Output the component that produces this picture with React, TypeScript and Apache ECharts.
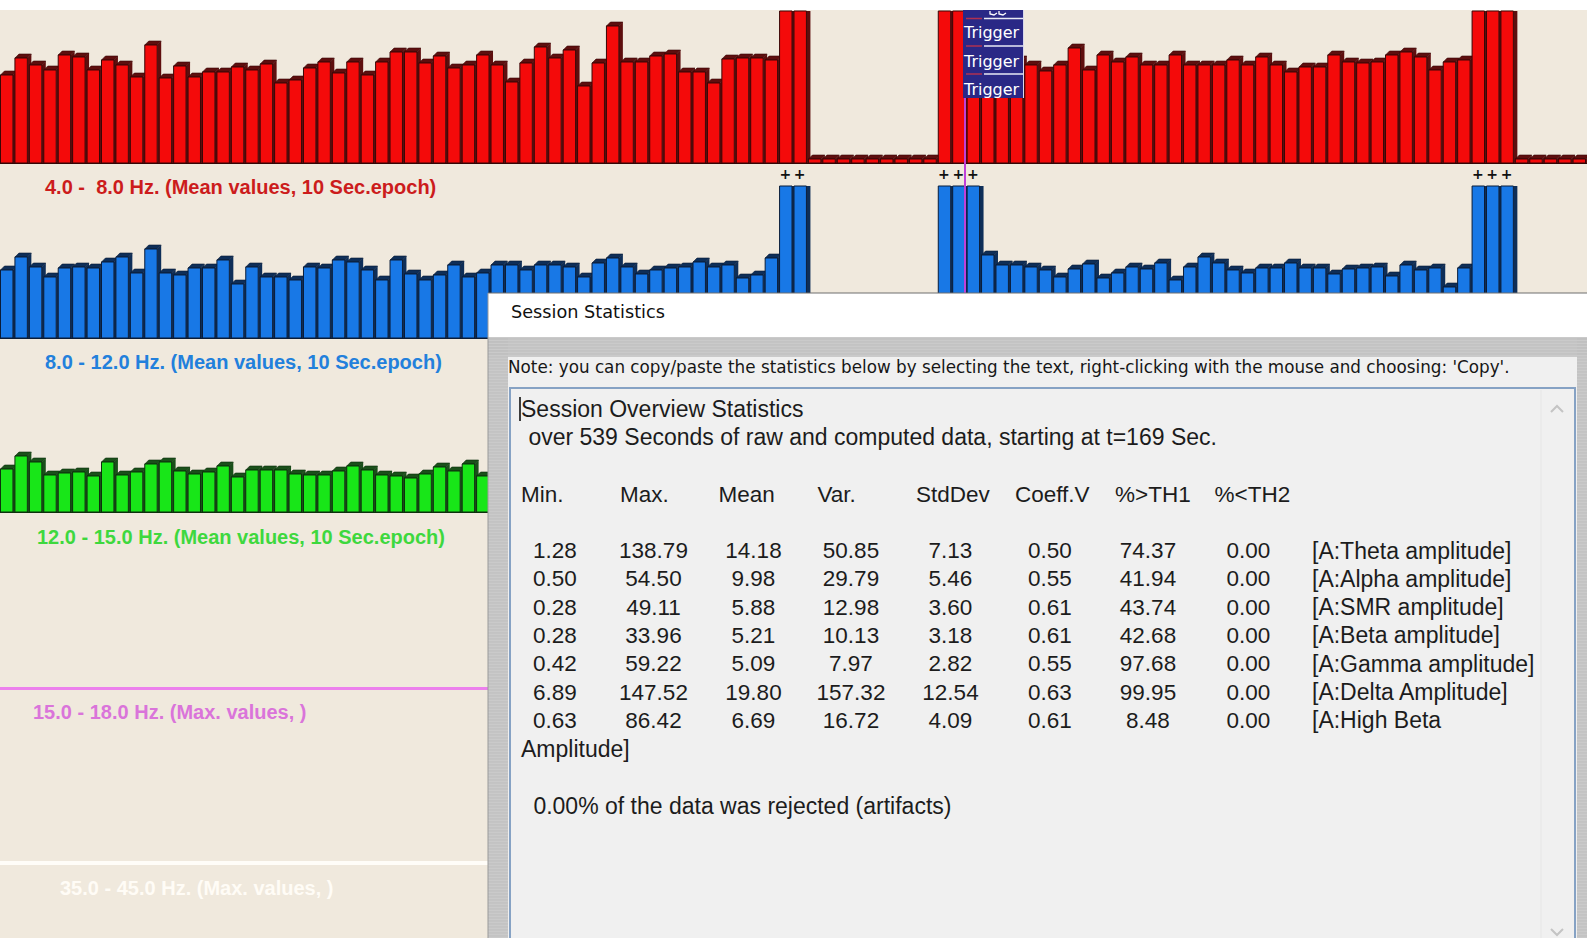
import React, { useEffect, useRef } from "react";
import * as echarts from "echarts";

// ---------- DATA ----------
const epochs: string[] = Array.from({ length: 110 }, (_, i) => `E${i + 1}`);

// 4-8 Hz (theta) mean amplitude per 10 s epoch (160 = off-scale / artifact)
const thetaValues = [
  88, 105, 98, 93, 108, 106, 93, 103, 98, 86,
  118, 85, 97, 86, 91, 91, 96, 93, 99, 80,
  83, 95, 101, 90, 101, 88, 101, 111, 111, 100,
  107, 95, 98, 108, 98, 81, 100, 116, 105, 113,
  77, 100, 137, 101, 101, 107, 109, 91, 91, 80,
  104, 105, 105, 103, 160, 160, 4, 4, 4, 4,
  4, 4, 4, 4, 4, 160, 160, 160, 100, 106,
  103, 98, 92, 98, 115, 93, 108, 101, 106, 98,
  98, 108, 98, 98, 98, 103, 98, 106, 98, 91,
  96, 96, 108, 101, 100, 101, 108, 111, 106, 93,
  101, 103, 160, 160, 160, 4, 4, 4, 4, 4,
];

// 8-12 Hz (alpha)
const alphaValues = [
  68, 81, 71, 61, 70, 71, 70, 76, 81, 65,
  89, 65, 63, 70, 70, 78, 54, 71, 61, 61,
  58, 71, 70, 78, 76, 68, 58, 78, 64, 58,
  63, 73, 61, 65, 73, 73, 68, 73, 73, 71,
  61, 75, 80, 71, 64, 68, 70, 71, 76, 71,
  73, 60, 63, 80, 160, 160, 4, 4, 4, 4,
  4, 4, 4, 4, 4, 160, 160, 160, 83, 73,
  73, 71, 68, 61, 69, 74, 60, 65, 71, 69,
  75, 58, 71, 81, 75, 68, 65, 70, 70, 75,
  70, 70, 64, 69, 70, 71, 62, 73, 68, 70,
  51, 70, 160, 160, 160, 4, 4, 4, 4, 4,
];

// 12-15 Hz (SMR) - visible part only
const smrValues = [
  43, 56, 50, 37, 39, 40, 36, 50, 37, 40,
  48, 50, 41, 38, 40, 46, 35, 42, 42, 42,
  38, 37, 37, 41, 46, 42, 37, 36, 34, 38,
  45, 41, 48, 36, 40,
];

const bandLabels = [
  "4.0 -  8.0 Hz. (Mean values, 10 Sec.epoch)",
  "8.0 - 12.0 Hz. (Mean values, 10 Sec.epoch)",
  "12.0 - 15.0 Hz. (Mean values, 10 Sec.epoch)",
  "15.0 - 18.0 Hz. (Max. values, )",
  "35.0 - 45.0 Hz. (Max. values, )",
];

const triggerLabels = ["Trigger", "Trigger", "Trigger"];

const statHeaders = ["Min.", "Max.", "Mean", "Var.", "StdDev", "Coeff.V", "%>TH1", "%<TH2"];
const statMin = ["1.28", "0.50", "0.28", "0.28", "0.42", "6.89", "0.63"];
const statMax = ["138.79", "54.50", "49.11", "33.96", "59.22", "147.52", "86.42"];
const statMean = ["14.18", "9.98", "5.88", "5.21", "5.09", "19.80", "6.69"];
const statVar = ["50.85", "29.79", "12.98", "10.13", "7.97", "157.32", "16.72"];
const statStd = ["7.13", "5.46", "3.60", "3.18", "2.82", "12.54", "4.09"];
const statCoeff = ["0.50", "0.55", "0.61", "0.61", "0.55", "0.63", "0.61"];
const statTh1 = ["74.37", "41.94", "43.74", "42.68", "97.68", "99.95", "8.48"];
const statTh2 = ["0.00", "0.00", "0.00", "0.00", "0.00", "0.00", "0.00"];
const channelLabels = [
  "[A:Theta amplitude]",
  "[A:Alpha amplitude]",
  "[A:SMR amplitude]",
  "[A:Beta amplitude]",
  "[A:Gamma amplitude]",
  "[A:Delta Amplitude]",
  "[A:High Beta",
];

// ---------- STYLE / LAYOUT ----------
const W = 1587;
const H = 938;
const BG = "#F0E9DD";
const gridTops = [11, 186, 360, 536, 711];
const GRID_H = 152;
const bandColors = [
  { front: "#F40A0A", dark: "#5E0E0E", edge: "#3A0606", label: "#CC1C1C", axis: "#2E0606", axisW: 2 },
  { front: "#1878E6", dark: "#0E2E58", edge: "#0A1C38", label: "#2280DC", axis: "#0A1C38", axisW: 2 },
  { front: "#18E618", dark: "#1A501A", edge: "#0C300C", label: "#3ED83E", axis: "#0C300C", axisW: 2 },
  { front: "#EE80EE", dark: "#EE80EE", edge: "#EE80EE", label: "#DA74DA", axis: "#EC80EC", axisW: 3 },
  { front: "#FFFFFF", dark: "#FFFFFF", edge: "#FFFFFF", label: "#FFFCF6", axis: "#FFFDF8", axisW: 4 },
];
const labelLefts = [45, 45, 37, 33, 60];
const labelCenters = [187, 362, 537, 712, 888];

function make3DRender(front: string, dark: string, edge: string, plus: boolean) {
  return (params: any, api: any) => {
    const i = api.value(0);
    const v = api.value(1);
    const base = api.coord([i, 0]);
    const top = api.coord([i, v]);
    const bw = api.size([1, 0])[0];
    const cs = params.coordSys;
    const d = 4;
    const xl = base[0] - bw / 2 + 0.5;
    const xr = base[0] + bw / 2 - 1.5;
    const yb = base[1];
    let yt = top[1];
    const clipped = yt <= cs.y;
    if (clipped) yt = cs.y;
    const children: any[] = [];
    children.push({
      type: "polygon",
      shape: {
        points: clipped
          ? [[xr, yt], [xr + d, yt], [xr + d, yb], [xr, yb]]
          : [[xr, yt], [xr + d, yt - d], [xr + d, yb], [xr, yb]],
      },
      style: { fill: dark },
    });
    if (!clipped) {
      children.push({
        type: "polygon",
        shape: { points: [[xl, yt], [xl + d, yt - d], [xr + d, yt - d], [xr, yt]] },
        style: { fill: dark, stroke: edge, lineWidth: 0.6 },
      });
    }
    children.push({
      type: "rect",
      shape: { x: xl, y: yt, width: xr - xl, height: yb - yt },
      style: { fill: front, stroke: edge, lineWidth: 1 },
    });
    if (plus && clipped) {
      children.push({
        type: "text",
        style: {
          text: "+",
          x: base[0] - 1,
          y: yb + 11,
          align: "center",
          verticalAlign: "middle",
          textAlign: "center",
          textVerticalAlign: "middle",
          fill: "#111111",
          font: 'bold 14px "DejaVu Sans"',
        },
      });
    }
    return { type: "group", children };
  };
}

function txt(text: string, x: number, y: number, font: string, fill: string, align = "left", z = 110) {
  return {
    type: "text",
    z,
    style: {
      text,
      x,
      y,
      font,
      fill,
      align,
      textAlign: align,
      verticalAlign: "middle",
      textVerticalAlign: "middle",
    },
  };
}

export default function App() {
  const ref = useRef<HTMLDivElement>(null);

  useEffect(() => {
    if (!ref.current) return;
    const chart = echarts.init(ref.current, undefined, { renderer: "svg" });

    const grids = gridTops.map((t) => ({ left: -1, top: t, width: W + 2, height: GRID_H }));
    const xAxes = gridTops.map((_, gi) => ({
      type: "category",
      gridIndex: gi,
      data: epochs,
      boundaryGap: true,
      axisTick: { show: false },
      axisLabel: { show: false },
      splitLine: { show: false },
      axisLine: { show: true, lineStyle: { color: bandColors[gi].axis, width: bandColors[gi].axisW } },
    }));
    const yAxes = gridTops.map((_, gi) => ({
      type: "value",
      gridIndex: gi,
      min: 0,
      max: GRID_H,
      show: false,
    }));

    const bandData = [thetaValues, alphaValues, smrValues];
    const series: any[] = bandData.map((vals, gi) => ({
      type: "custom",
      name: bandLabels[gi],
      xAxisIndex: gi,
      yAxisIndex: gi,
      clip: false,
      renderItem: make3DRender(bandColors[gi].front, bandColors[gi].dark, bandColors[gi].edge, gi === 0),
      data: vals.map((v, i) => [i, v]),
      z: 2,
    }));

    const titles = bandLabels.map((t, gi) => ({
      text: t,
      left: labelLefts[gi],
      top: labelCenters[gi] - 10,
      padding: 0,
      textStyle: {
        color: bandColors[gi].label,
        fontSize: 20,
        fontWeight: "bold",
        fontFamily: '"Liberation Sans", Arial, sans-serif',
        lineHeight: 20,
      },
    }));

    // ---------- graphic overlay: trigger markers + dialog ----------
    const g: any[] = [];
    // magenta event line
    g.push({ type: "line", z: 70, shape: { x1: 965, y1: 10, x2: 965, y2: 293 }, style: { stroke: "#C040D8", lineWidth: 2 } });
    // trigger boxes
    g.push({ type: "rect", z: 80, shape: { x: 963, y: 10, width: 61, height: 88 }, style: { fill: "#2A2886" } });
    [18.5, 46, 74].forEach((yy) => {
      g.push({ type: "line", z: 81, shape: { x1: 984, y1: yy, x2: 1023, y2: yy }, style: { stroke: "#E8E8F4", lineWidth: 1.5 } });
      g.push({ type: "line", z: 81, shape: { x1: 966, y1: yy, x2: 982, y2: yy }, style: { stroke: "#B03050", lineWidth: 1.5 } });
    });
    g.push({ type: "line", z: 81, shape: { x1: 1023.5, y1: 10, x2: 1023.5, y2: 98 }, style: { stroke: "#D8D8EC", lineWidth: 1 } });
    // glyph fragments of a trigger label scrolled off the top
    g.push({ type: "polyline", z: 82, shape: { points: [[990, 11], [990, 14], [994, 15], [997, 13]] }, style: { stroke: "#FFFFFF", lineWidth: 1.3, fill: "none" } });
    g.push({ type: "polyline", z: 82, shape: { points: [[999, 11], [999, 14], [1003, 15], [1006, 13]] }, style: { stroke: "#FFFFFF", lineWidth: 1.3, fill: "none" } });
    const trigY = [32, 61, 89];
    triggerLabels.forEach((t, k) => g.push(txt(t, 964, trigY[k], '16px "DejaVu Sans"', "#FFFFFF", "left", 82)));
    // white strip on top
    g.push({ type: "rect", z: 90, shape: { x: 0, y: 0, width: W, height: 10 }, style: { fill: "#FFFFFF" } });

    // dialog window
    const DX = 488, DY = 293;
    g.push({ type: "rect", z: 100, shape: { x: DX, y: DY, width: W - DX, height: H - DY }, style: { fill: "#CACACA" } });
    for (let yy = 339; yy < H; yy += 3) {
      g.push({ type: "line", z: 100, shape: { x1: DX, y1: yy, x2: 508, y2: yy }, style: { stroke: "#BDBDBD", lineWidth: 1 } });
      g.push({ type: "line", z: 100, shape: { x1: 1577, y1: yy, x2: W, y2: yy }, style: { stroke: "#BDBDBD", lineWidth: 1 } });
    }
    for (let yy = 339; yy < 357; yy += 3) {
      g.push({ type: "line", z: 100, shape: { x1: DX, y1: yy, x2: W, y2: yy }, style: { stroke: "#BDBDBD", lineWidth: 1 } });
    }
    g.push({ type: "rect", z: 101, shape: { x: DX, y: DY, width: W - DX, height: 44 }, style: { fill: "#FFFFFF" } });
    g.push({ type: "line", z: 102, shape: { x1: DX, y1: DY, x2: W, y2: DY }, style: { stroke: "#6E6E6E", lineWidth: 1 } });
    g.push({ type: "line", z: 102, shape: { x1: DX, y1: DY, x2: DX, y2: H }, style: { stroke: "#9A9A9A", lineWidth: 1 } });
    g.push(txt("Session Statistics", 511, 312, '17.7px "DejaVu Sans"', "#111111"));
    g.push({ type: "rect", z: 101, shape: { x: 508, y: 357, width: 1069, height: H - 357 }, style: { fill: "#F0F0F0" } });
    g.push(
      txt(
        "Note: you can copy/paste the statistics below by selecting the text, right-clicking with the mouse and choosing: 'Copy'.",
        508,
        367,
        '16.8px "DejaVu Sans"',
        "#161616"
      )
    );
    g.push({
      type: "rect",
      z: 102,
      shape: { x: 510, y: 388, width: 1065, height: 570 },
      style: { fill: "#F0F0F0", stroke: "#86A2C4", lineWidth: 2 },
    });
    g.push({ type: "line", z: 103, shape: { x1: 1541, y1: 390, x2: 1541, y2: H }, style: { stroke: "#E6E6E6", lineWidth: 1 } });
    g.push({ type: "polyline", z: 103, shape: { points: [[1551, 412], [1557, 406], [1563, 412]] }, style: { stroke: "#C4C4C4", lineWidth: 2, fill: "none" } });
    g.push({ type: "polyline", z: 103, shape: { points: [[1551, 929], [1557, 935], [1563, 929]] }, style: { stroke: "#C4C4C4", lineWidth: 2, fill: "none" } });
    // caret
    g.push({ type: "line", z: 104, shape: { x1: 520, y1: 397, x2: 520, y2: 421 }, style: { stroke: "#000000", lineWidth: 1.5 } });

    const MF = '23px "Liberation Sans"';
    const NF = '22.5px "Liberation Sans"';
    const MC = "#1C1C1C";
    g.push(txt("Session Overview Statistics", 521, 409, MF, MC));
    g.push(txt(" over 539 Seconds of raw and computed data, starting at t=169 Sec.", 522, 437, MF, MC));
    const headerLefts = [521, 620, 718.5, 817.5, 916, 1015, 1115, 1214.5];
    statHeaders.forEach((h, k) => g.push(txt(h, headerLefts[k], 494, NF, MC)));
    const colCenters = [555, 653.5, 753.5, 851, 950.5, 1050, 1148, 1248.5];
    const cols = [statMin, statMax, statMean, statVar, statStd, statCoeff, statTh1, statTh2];
    const rowY0 = 550.5;
    const rowStep = 28.3;
    channelLabels.forEach((lab, r) => {
      const y = rowY0 + r * rowStep;
      cols.forEach((c, k) => g.push(txt(c[r], colCenters[k], y, NF, MC, "center")));
      g.push(txt(lab, 1312, y, MF, MC));
    });
    g.push(txt("Amplitude]", 521, rowY0 + 7 * rowStep, MF, MC));
    g.push(txt(" 0.00% of the data was rejected (artifacts)", 527, 806, MF, MC));

    chart.setOption({
      animation: false,
      backgroundColor: BG,
      title: titles,
      grid: grids,
      xAxis: xAxes,
      yAxis: yAxes,
      series,
      graphic: { elements: g },
    });

    return () => chart.dispose();
  }, []);

  return <div ref={ref} style={{ position: "fixed", left: 0, top: 0, width: W, height: H }} />;
}
